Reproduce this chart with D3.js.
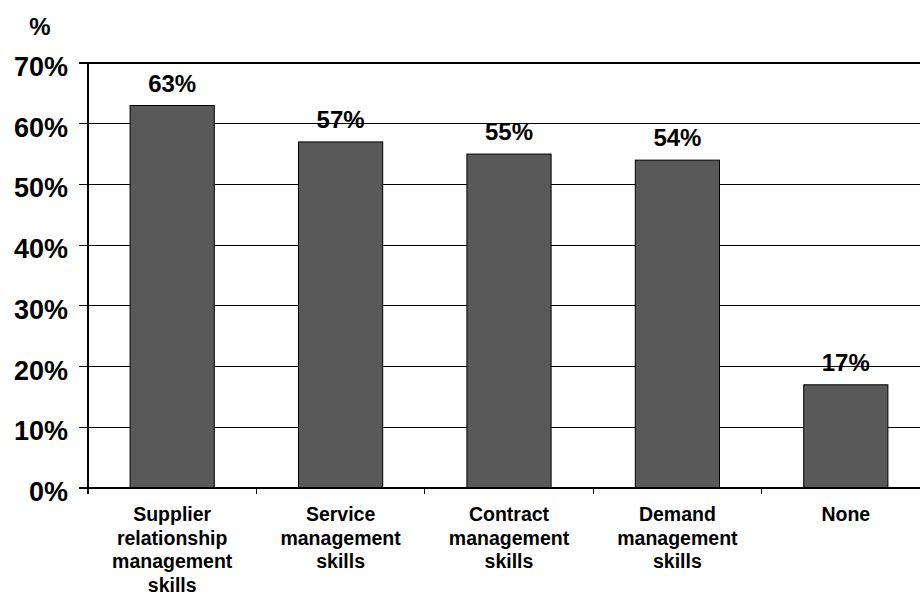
<!DOCTYPE html>
<html>
<head>
<meta charset="utf-8">
<script src="https://cdn.jsdelivr.net/npm/d3@7"></script>
<style>
  html, body { margin: 0; padding: 0; background: #ffffff; }
  svg { display: block; }
  text { font-family: "Liberation Sans", Arial, sans-serif; font-weight: bold; fill: #000; }
</style>
</head>
<body>
<svg id="chart" width="920" height="596"></svg>
<script>
// Skills categories and the share of respondents for each
const categories = [
  ["Supplier", "relationship", "management", "skills"],
  ["Service", "management", "skills"],
  ["Contract", "management", "skills"],
  ["Demand", "management", "skills"],
  ["None"]
];
const values = [63, 57, 55, 54, 17];
const yTicks = [0, 10, 20, 30, 40, 50, 60, 70];

const svg = d3.select("#chart");
const W = 920;
const plotLeft = 88, plotTop = 63, plotBottom = 488, plotRight = 930;

const keys = categories.map(c => c.join(" "));
const x = d3.scaleBand().domain(keys).range([plotLeft, plotRight])
  .paddingInner(0.5).paddingOuter(0.25);
const step = x.step();
const y = d3.scaleLinear().domain([0, 70]).range([plotBottom, plotTop]);

// Horizontal gridlines with short outside ticks
svg.append("g").selectAll("line").data(yTicks.filter(t => t > 0)).join("line")
  .attr("x1", plotLeft - 9).attr("x2", W)
  .attr("y1", d => y(d)).attr("y2", d => y(d))
  .attr("stroke", "#000").attr("stroke-width", 1.2)
  .attr("shape-rendering", "crispEdges");

// Y tick labels
svg.append("g").selectAll("text").data(yTicks).join("text")
  .attr("x", 68).attr("y", d => y(d) + 13)
  .attr("text-anchor", "end")
  .style("font-size", "27px")
  .text(d => d + "%");

// Axis title
svg.append("text").attr("x", 40).attr("y", 35)
  .attr("text-anchor", "middle").style("font-size", "24px").text("%");

// Bars
svg.append("g").selectAll("rect").data(values).join("rect")
  .attr("x", (d, i) => x(keys[i]))
  .attr("y", d => y(d))
  .attr("width", x.bandwidth())
  .attr("height", d => y(0) - y(d))
  .attr("fill", "#595959")
  .attr("stroke", "#000").attr("stroke-width", 1);

// Value labels
svg.append("g").selectAll("text").data(values).join("text")
  .attr("x", (d, i) => x(keys[i]) + x.bandwidth() / 2)
  .attr("y", d => y(d) - 14)
  .attr("text-anchor", "middle")
  .style("font-size", "24px")
  .text(d => d + "%");

// Y axis line
svg.append("line").attr("x1", plotLeft).attr("x2", plotLeft)
  .attr("y1", plotTop).attr("y2", plotBottom + 6)
  .attr("stroke", "#000").attr("stroke-width", 1.2)
  .attr("shape-rendering", "crispEdges");

// Baseline
svg.append("line").attr("x1", plotLeft - 9).attr("x2", W)
  .attr("y1", plotBottom).attr("y2", plotBottom)
  .attr("stroke", "#000").attr("stroke-width", 2)
  .attr("shape-rendering", "crispEdges");

// Category boundary ticks
const bounds = d3.range(1, keys.length).map(i => plotLeft + i * step);
svg.append("g").selectAll("line").data(bounds).join("line")
  .attr("x1", d => d).attr("x2", d => d)
  .attr("y1", plotBottom).attr("y2", plotBottom + 6)
  .attr("stroke", "#000").attr("stroke-width", 1)
  .attr("shape-rendering", "crispEdges");

// Category labels, one line per word group
const labels = svg.append("g").selectAll("text").data(categories).join("text")
  .attr("text-anchor", "middle")
  .style("font-size", "19.5px");
labels.each(function(lines, i) {
  const cx = x(keys[i]) + x.bandwidth() / 2;
  d3.select(this).selectAll("tspan").data(lines).join("tspan")
    .attr("x", cx)
    .attr("y", (d, j) => 521 + j * 23.5)
    .text(d => d);
});
</script>
</body>
</html>
